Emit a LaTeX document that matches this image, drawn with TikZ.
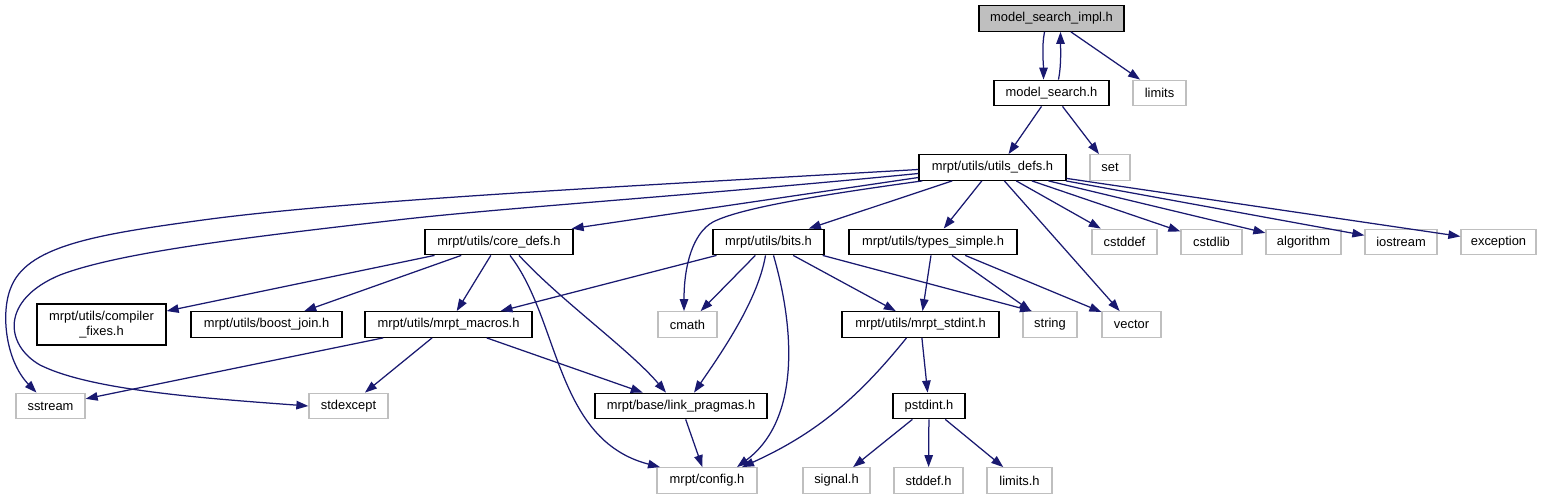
\documentclass[tikz,border=0pt]{standalone}
\usepackage{fontspec}
\usetikzlibrary{arrows.meta}
\newfontfamily\lsans{Liberation Sans}
\definecolor{edgeblue}{HTML}{191970}
\definecolor{boxgray}{HTML}{BFBFBF}
\newcommand\nodefont{\lsans\fontsize{12.9}{15}\selectfont}
\tikzset{
  inc/.style={draw=black, line width=1.3pt, minimum height=25.5pt, inner sep=0pt, font=\nodefont, text=black},
  ext/.style={draw=boxgray, line width=1.3pt, minimum height=25.5pt, inner sep=0pt, font=\nodefont, text=black},
  edge/.style={draw=edgeblue, line width=1.25pt, -{Triangle[length=12pt,width=8.5pt]}, color=edgeblue},
}
\begin{document}
\begin{tikzpicture}[x=1pt,y=-1pt]
\useasboundingbox (0,0) rectangle (1546,500);
% row 1
\node[inc, fill=boxgray, minimum width=145] (impl) at (1051.5,18.5) {model\_search\_impl.h};
% row 2
\node[inc, minimum width=115] (ms) at (1051.5,93) {model\_search.h};
\node[ext, minimum width=53] (limits) at (1159.5,93) {limits};
% row 3
\node[inc, minimum width=147] (ud) at (992.5,167.5) {mrpt/utils/utils\_defs.h};
\node[ext, minimum width=40] (set) at (1110,167.5) {set};
% row 4
\node[inc, minimum width=148] (cd) at (499,242) {mrpt/utils/core\_defs.h};
\node[inc, minimum width=111] (bits) at (768.5,242) {mrpt/utils/bits.h};
\node[inc, minimum width=168] (ts) at (933,242) {mrpt/utils/types\_simple.h};
\node[ext, minimum width=65] (cstddef) at (1124.5,242) {cstddef};
\node[ext, minimum width=61] (cstdlib) at (1211.5,242) {cstdlib};
\node[ext, minimum width=75] (algorithm) at (1303.5,242) {algorithm};
\node[ext, minimum width=72] (iostream) at (1401,242) {iostream};
\node[ext, minimum width=75] (exception) at (1498.5,242) {exception};
% row 5
\node[inc, minimum width=129, minimum height=41, align=center] (cf) at (101.5,324.5) {mrpt/utils/compiler\\\_fixes.h};
\node[inc, minimum width=151] (bj) at (266.5,324.5) {mrpt/utils/boost\_join.h};
\node[inc, minimum width=167] (mm) at (448.5,324.5) {mrpt/utils/mrpt\_macros.h};
\node[ext, minimum width=59] (cmath) at (687.5,324.5) {cmath};
\node[inc, minimum width=157] (stdint) at (920.5,324.5) {mrpt/utils/mrpt\_stdint.h};
\node[ext, minimum width=54] (string) at (1050,324.5) {string};
\node[ext, minimum width=59] (vector) at (1131.5,324.5) {vector};
% row 6
\node[ext, minimum width=69] (sstream) at (50.5,406) {sstream};
\node[ext, minimum width=79] (stdexcept) at (348.5,406) {stdexcept};
\node[inc, minimum width=172] (lp) at (681,406) {mrpt/base/link\_pragmas.h};
\node[inc, minimum width=72] (pstdint) at (929,406) {pstdint.h};
% row 7
\node[ext, minimum width=100] (config) at (707,480.5) {mrpt/config.h};
\node[ext, minimum width=67] (signal) at (836.5,480.5) {signal.h};
\node[ext, minimum width=69] (stddef) at (928.5,480.5) {stddef.h};
\node[ext, minimum width=65] (limitsh) at (1019.5,480.5) {limits.h};

% edges from the top
\draw[edge] ([xshift=-7pt]impl.south) .. controls +(-3,15) and +(0,-15) .. ([xshift=-8pt]ms.north);
\draw[edge] ([xshift=7pt]ms.north) .. controls +(3,-15) and +(0,15) .. ([xshift=9pt]impl.south);
\draw[edge] (impl) -- (limits);
\draw[edge] ([xshift=-10pt]ms.south) -- ([xshift=16pt]ud.north);
\draw[edge] ([xshift=11pt]ms.south) -- ([xshift=-11pt]set.north);

% utils_defs
\draw[edge] ([yshift=-2pt]ud.west) .. controls (650,185) and (350,200) .. (203,220)
   .. controls (100,234) and (30,245) .. (12,285)
   .. controls (0,310) and (5,360) .. ([xshift=-14pt]sstream.north);
\draw[edge] ([yshift=-6pt]ud.west) .. controls (700,195) and (500,208) .. (397,220)
   .. controls (250,237) and (120,252) .. (60,275)
   .. controls (0,300) and (5,345) .. (40,365)
   .. controls (90,390) and (200,398) .. (stdexcept.west);
\draw[edge] ([yshift=-10pt]ud.west) -- ([xshift=-2pt]cd.north east);
\draw[edge] ([xshift=4pt]ud.south west) .. controls (820,195) and (740,208) .. (713,222)
   .. controls (693,233) and (684,265) .. ([xshift=-3.5pt]cmath.north);
\draw[edge] (ud) -- (bits);
\draw[edge] (ud) -- (ts);
\draw[edge] (ud) -- (vector);
\draw[edge] (ud) -- (cstddef);
\draw[edge] (ud) -- (cstdlib);
\draw[edge] (ud) -- (algorithm);
\draw[edge] (ud) -- (iostream);
\draw[edge] (ud) -- (exception);

% core_defs
\draw[edge] (cd) -- (cf);
\draw[edge] (cd) -- (bj);
\draw[edge] (cd) -- (mm);
\draw[edge] ([xshift=20pt]cd.south) .. controls (560,300) and (630,350) .. ([xshift=-15pt]lp.north);
\draw[edge] ([xshift=11pt]cd.south) .. controls (560,320) and (555,440) .. ([xshift=-47pt]config.north);

% bits
\draw[edge] (bits) -- (mm);
\draw[edge] (bits) -- (cmath);
\draw[edge] ([xshift=-3pt]bits.south) .. controls (758,300) and (722,352) .. ([xshift=13pt]lp.north);
\draw[edge] ([xshift=5pt]bits.south) .. controls (795,330) and (800,420) .. ([xshift=30pt]config.north);
\draw[edge] (bits) -- (stdint);
\draw[edge] ([xshift=-2pt]bits.south east) -- ([xshift=-18pt]string.north);

% types_simple
\draw[edge] (ts) -- (stdint);
\draw[edge] (ts) -- (string);
\draw[edge] (ts) -- (vector);

% mrpt_macros
\draw[edge] (mm) -- (sstream);
\draw[edge] (mm) -- (stdexcept);
\draw[edge] (mm) -- (lp);

% mrpt_stdint
\draw[edge] ([xshift=-14pt]stdint.south) .. controls (862,393) and (820,432) .. ([xshift=35pt]config.north);
\draw[edge] (stdint) -- (pstdint);

% link_pragmas, pstdint
\draw[edge] (lp) -- (config);
\draw[edge] (pstdint) -- (signal);
\draw[edge] (pstdint) -- (stddef);
\draw[edge] (pstdint) -- (limitsh);
\end{tikzpicture}
\end{document}
